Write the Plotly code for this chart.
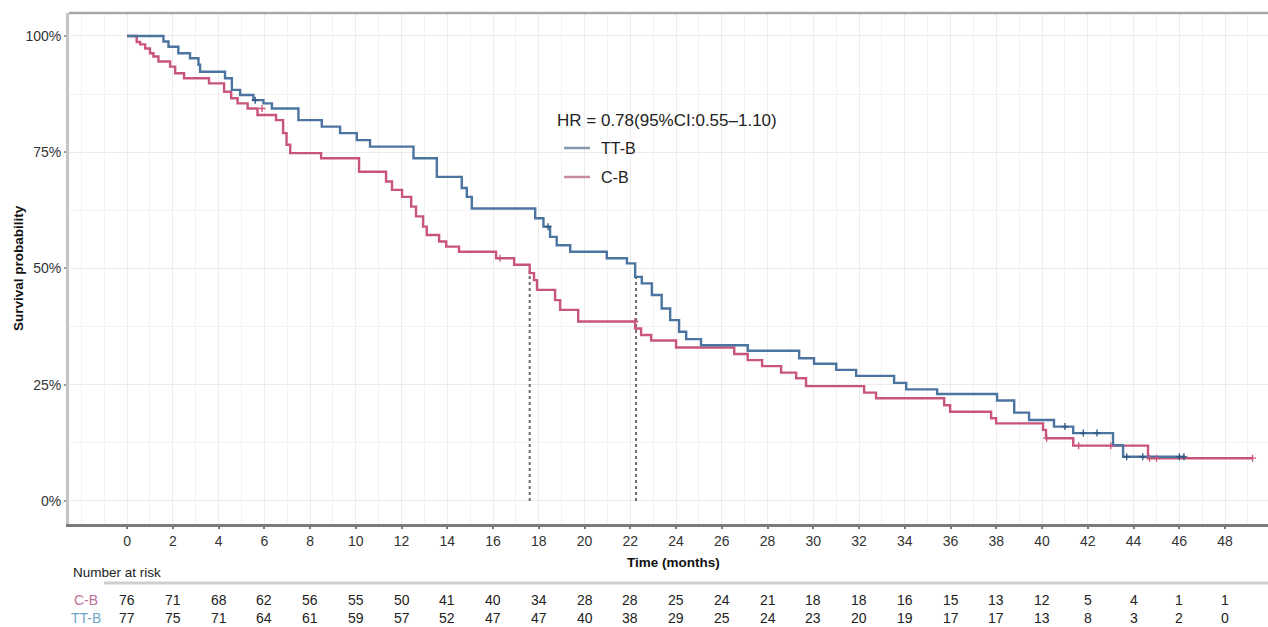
import plotly.graph_objects as go

# ---------------- data ----------------
tt_time = [0, 1.59, 1.81, 2.24, 2.75, 3.12, 3.19, 4.28, 4.58, 4.94, 5.52, 5.96, 6.33, 7.49, 8.51,
           9.31, 10.04, 10.62, 12.52, 13.54, 14.63, 14.85, 15.07, 17.84, 18.2, 18.49, 18.78, 19.37,
           20.97, 21.85, 22.21, 22.5, 22.94, 23.37, 23.74, 24.13, 24.44, 25.09, 27.13, 29.38, 30.03,
           31.0, 31.87, 33.53, 34.06, 35.41, 38.03, 38.78, 39.43, 40.52, 41.36, 43.1, 43.54, 46.25]
tt_surv = [100, 98.8, 97.7, 96.3, 95.2, 93.8, 92.3, 90.9, 88.4, 87.3, 86.2, 85.5, 84.4, 81.9, 80.5,
           79.1, 77.6, 76.2, 73.7, 69.7, 67.3, 65.4, 62.9, 60.8, 59.0, 56.8, 55.0, 53.6,
           52.2, 51.1, 48.2, 46.8, 44.3, 41.4, 38.9, 36.4, 34.8, 33.5, 32.3, 30.7, 29.5,
           28.2, 26.9, 25.4, 24.0, 23.0, 21.6, 19.0, 17.4, 16.0, 14.6, 12.0, 9.5, 9.5]

cb_time = [0, 0.42, 0.57, 0.79, 1.0, 1.15, 1.37, 1.88, 2.1, 2.49, 3.58, 4.24, 4.55, 4.83, 5.27, 5.7,
           6.51, 6.82, 6.97, 7.13, 8.48, 10.14, 11.32, 11.58, 12.02, 12.42, 12.63, 12.94, 13.1, 13.64,
           13.95, 14.51, 16.13, 16.92, 17.6, 17.79, 17.92, 18.71, 18.93, 19.72, 22.21, 22.47, 22.91,
           24.0, 26.54, 27.13, 27.76, 28.59, 29.25, 29.68, 32.22, 32.74, 35.72, 35.98, 37.77, 37.99,
           40.04, 40.17, 41.36, 44.63, 49.2]
cb_surv = [100, 98.7, 98.2, 97.3, 96.3, 95.6, 94.5, 93.4, 92.0, 90.9, 89.8, 88.0, 86.6, 85.5, 84.4, 83.0,
           81.9, 79.1, 76.6, 74.8, 73.7, 70.8, 68.7, 66.9, 65.4, 63.3, 61.2, 59.0, 57.2, 55.8,
           54.7, 53.6, 52.2, 50.8, 49.0, 47.5, 45.4, 43.2, 41.1, 38.6, 37.1, 35.7, 34.5,
           33.0, 31.6, 30.3, 29.0, 27.6, 26.4, 24.7, 23.3, 22.1, 20.6, 19.2, 17.8, 16.7,
           15.3, 13.5, 11.9, 9.2, 9.2]

tt_cens_time = [5.6, 18.4, 41.0, 41.8, 42.4, 43.7, 44.4, 46.0, 46.2]
tt_cens_surv = [86.2, 59.0, 16.0, 14.6, 14.6, 9.5, 9.5, 9.5, 9.5]
cb_cens_time = [5.9, 16.3, 22.2, 40.2, 41.6, 43.0, 44.7, 45.0, 49.2]
cb_cens_surv = [84.4, 52.2, 38.6, 13.5, 11.9, 11.9, 9.2, 9.2, 9.2]

median_cb = 17.6
median_tt = 22.25

risk_times = list(range(0, 50, 2))
risk_cb = [76, 71, 68, 62, 56, 55, 50, 41, 40, 34, 28, 28, 25, 24, 21, 18, 18, 16, 15, 13, 12, 5, 4, 1, 1]
risk_tt = [77, 75, 71, 64, 61, 59, 57, 52, 47, 47, 40, 38, 29, 25, 24, 23, 20, 19, 17, 17, 13, 8, 3, 2, 0]

y_ticks = [0, 25, 50, 75, 100]
y_ticklabels = ["0%", "25%", "50%", "75%", "100%"]
hr_text = "HR = 0.78(95%CI:0.55–1.10)"

# ---------------- style ----------------
BLUE = "#4b74a1"
RED = "#c9557a"
FONT = "Liberation Sans, Arial, sans-serif"
W, H = 1268, 627
L, R, T, B = 69, 0, 13, 103
PW, PH = W - L - R, H - T - B


def px(xp):
    return (xp - L) / PW


def py(yp):
    return (H - B - yp) / PH


fig = go.Figure()

# median lines
for m, top in [(median_cb, 49.5), (median_tt, 48.5)]:
    fig.add_trace(go.Scatter(x=[m, m], y=[0, top], mode="lines",
                             line=dict(color="#6b6b6b", width=2, dash="dot"),
                             showlegend=False, hoverinfo="skip"))

fig.add_trace(go.Scatter(x=cb_time, y=cb_surv, mode="lines", line=dict(color=RED, width=2.4, shape="hv"),
                         name="C-B", showlegend=False))
fig.add_trace(go.Scatter(x=tt_time, y=tt_surv, mode="lines", line=dict(color=BLUE, width=2.4, shape="hv"),
                         name="TT-B", showlegend=False))
fig.add_trace(go.Scatter(x=cb_cens_time, y=cb_cens_surv, mode="markers",
                         marker=dict(symbol="cross-thin", size=5, line=dict(color=RED, width=1.3)),
                         showlegend=False, hoverinfo="skip"))
fig.add_trace(go.Scatter(x=tt_cens_time, y=tt_cens_surv, mode="markers",
                         marker=dict(symbol="cross-thin", size=5, line=dict(color="#2f5480", width=1.3)),
                         showlegend=False, hoverinfo="skip"))

x_min = -2.54
x_max = x_min + PW / 22.875
y_min = -4.95
y_max = y_min + PH / 4.65

fig.update_xaxes(range=[x_min, x_max], tickvals=risk_times, ticktext=[str(v) for v in risk_times],
                 showgrid=True, gridcolor="#ececec", gridwidth=1,
                 minor=dict(dtick=1, tick0=0, showgrid=True, gridcolor="#f2f2f2", gridwidth=1),
                 showline=True, linecolor="#7a7a7a", linewidth=2.5,
                 ticks="outside", ticklen=2, tickcolor="#7a7a7a", tickwidth=2,
                 tickfont=dict(family=FONT, size=14, color="#333333"), zeroline=False)
fig.update_yaxes(range=[y_min, y_max], tickvals=y_ticks, ticktext=y_ticklabels,
                 showgrid=True, gridcolor="#ececec", gridwidth=1,
                 minor=dict(dtick=12.5, tick0=0, showgrid=True, gridcolor="#f2f2f2", gridwidth=1),
                 showline=True, linecolor="#c4c4c4", linewidth=3,
                 ticks="outside", ticklen=2, tickcolor="#9a9a9a", tickwidth=2,
                 tickfont=dict(family=FONT, size=14, color="#333333"), zeroline=False)

shapes = [
    # top frame line
    dict(type="line", xref="paper", yref="paper", x0=0, x1=1, y0=1, y1=1,
         line=dict(color="#a8a8a8", width=2.5)),
    # risk table separator
    dict(type="line", xref="paper", yref="paper", x0=px(104), x1=1, y0=py(583), y1=py(583),
         line=dict(color="#cfcfcf", width=3)),
    # legend keys
    dict(type="line", xref="paper", yref="paper", x0=px(564), x1=px(590), y0=py(148), y1=py(148),
         line=dict(color="#8597ab", width=2.5)),
    dict(type="line", xref="paper", yref="paper", x0=px(564), x1=px(590), y0=py(177), y1=py(177),
         line=dict(color="#c98aa3", width=2.5)),
]

ann = [
    dict(text=hr_text, xref="paper", yref="paper", x=px(555), y=py(120), xanchor="left", yanchor="middle",
         showarrow=False, font=dict(family=FONT, size=17, color="#222222")),
    dict(text="TT-B", xref="paper", yref="paper", x=px(599), y=py(148), xanchor="left", yanchor="middle",
         showarrow=False, font=dict(family=FONT, size=16, color="#222222")),
    dict(text="C-B", xref="paper", yref="paper", x=px(599), y=py(177), xanchor="left", yanchor="middle",
         showarrow=False, font=dict(family=FONT, size=16, color="#222222")),
    dict(text="<b>Time (months)</b>", xref="paper", yref="paper", x=px(673), y=py(562),
         xanchor="center", yanchor="middle", showarrow=False, font=dict(family=FONT, size=13.5, color="#111111")),
    dict(text="<b>Survival probability</b>", xref="paper", yref="paper", x=px(18), y=py(268),
         xanchor="center", yanchor="middle", textangle=-90, showarrow=False,
         font=dict(family=FONT, size=13.5, color="#111111")),
    dict(text="Number at risk", xref="paper", yref="paper", x=px(71), y=py(572), xanchor="left",
         yanchor="middle", showarrow=False, font=dict(family=FONT, size=13.5, color="#222222")),
    dict(text="C-B", xref="paper", yref="paper", x=px(86), y=py(600), xanchor="center", yanchor="middle",
         showarrow=False, font=dict(family=FONT, size=14, color="#b8719a")),
    dict(text="TT-B", xref="paper", yref="paper", x=px(86), y=py(618), xanchor="center", yanchor="middle",
         showarrow=False, font=dict(family=FONT, size=14, color="#6fa4cb")),
]
for t, c, tv in zip(risk_times, risk_cb, risk_tt):
    ann.append(dict(text=str(c), xref="x", yref="paper", x=t, y=py(600), xanchor="center", yanchor="middle",
                    showarrow=False, font=dict(family=FONT, size=14, color="#222222")))
    ann.append(dict(text=str(tv), xref="x", yref="paper", x=t, y=py(618), xanchor="center", yanchor="middle",
                    showarrow=False, font=dict(family=FONT, size=14, color="#222222")))

fig.update_layout(width=W, height=H, margin=dict(l=L, r=R, t=T, b=B, autoexpand=False),
                  plot_bgcolor="white", paper_bgcolor="white", shapes=shapes, annotations=ann,
                  showlegend=False)

fig.write_html("out.html", config={"displayModeBar": False},
               post_script=["document.body.style.margin='0';document.body.style.overflow='hidden';"])
